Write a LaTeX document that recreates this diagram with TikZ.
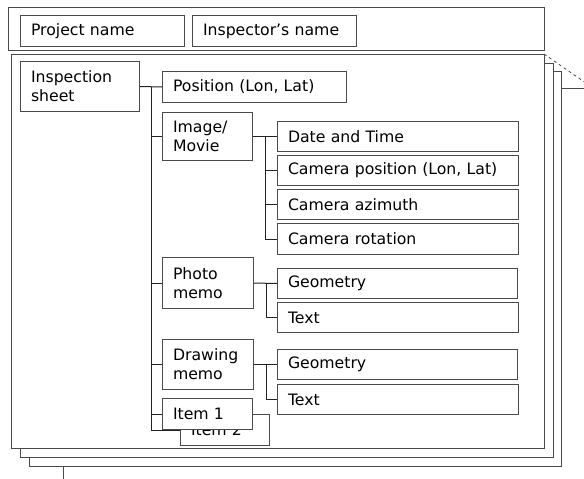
\documentclass[tikz,border=0pt]{standalone}
\usepackage{fontspec}
\setmainfont{DejaVu Sans}
\definecolor{framegray}{HTML}{4A4A4A}
\definecolor{linkgray}{HTML}{222222}
\begin{document}
\begin{tikzpicture}[x=1pt,y=-1pt,line width=1pt]
\tikzset{
  sheet/.style={draw=framegray,fill=white},
  cell/.style={draw=framegray,fill=white,anchor=north west,inner xsep=10.5pt,
    inner ysep=0pt,align=left,text=black,
    font=\fontsize{15.7}{19}\selectfont},
  link/.style={draw=linkgray,line width=1pt},
}
\useasboundingbox (0,0) rectangle (584,479);

% stacked sheets behind the main one
\draw[framegray] (561,88) -- (584,88);
\draw[framegray] (63,466) -- (63,479);
\draw[sheet] (29,71) rectangle (561,466);
\draw[sheet] (20.7,63) rectangle (553,457);
\draw[sheet] (11.7,54) rectangle (544,448);
\draw[framegray,dashed,line width=0.8pt] (544,54) -- (584,81.7);

% header strip
\draw[sheet] (8,7) rectangle (544,50);
\node[cell,text width=143pt,minimum height=31pt] (proj) at (20,15) {Project name};
\node[cell,text width=143pt,minimum height=31pt] (insp) at (192,15) {Inspector’s name};

% inspection sheet tree
\node[cell,text width=98pt,minimum height=50pt] (sheetnode) at (20,61) {Inspection\\sheet};
\node[cell,text width=163pt,minimum height=31pt] (pos) at (162,71) {Position (Lon, Lat)};
\node[cell,text width=69pt,minimum height=48pt] (img) at (162,112) {Image/\\Movie};
\node[cell,text width=220pt,minimum height=30pt] (date) at (277,121) {Date and Time};
\node[cell,text width=220pt,minimum height=30pt] (campos) at (277,155) {Camera position (Lon, Lat)};
\node[cell,text width=220pt,minimum height=30pt] (azim) at (277,189) {Camera azimuth};
\node[cell,text width=220pt,minimum height=31pt] (rot) at (277,223) {Camera rotation};
\node[cell,text width=70pt,minimum height=51pt] (photo) at (162,257) {Photo\\memo};
\node[cell,text width=219pt,minimum height=30pt] (pgeo) at (277,268) {Geometry};
\node[cell,text width=220pt,minimum height=30pt] (ptext) at (277,302) {Text};
\node[cell,text width=70pt,minimum height=50pt] (drawm) at (162,339) {Drawing\\memo};
\node[cell,text width=219pt,minimum height=30pt] (dgeo) at (277,349) {Geometry};
\node[cell,text width=220pt,minimum height=30pt] (dtext) at (277,384) {Text};
\node[cell,text width=68pt,minimum height=31pt] (item2) at (180,414) {Item 2};
\node[cell,text width=69pt,minimum height=31pt] (item1) at (162,398) {Item 1};

% trunk lines
\coordinate (trunk) at (151,0);
\coordinate (imgtrunk) at (265,0);
\coordinate (memotrunk) at (266,0);

\draw[link] (sheetnode.east) -- (pos.west);
\draw[link] (sheetnode.east -| trunk) |- (item2.west);
\draw[link] (trunk |- img.west) -- (img.west);
\draw[link] (trunk |- photo.west) -- (photo.west);
\draw[link] (trunk |- drawm.west) -- (drawm.west);
\draw[link] (trunk |- item1.west) -- (item1.west);

\draw[link] (img.east) -- (date.west);
\draw[link] (img.east -| imgtrunk) |- (rot.west);
\draw[link] (imgtrunk |- campos.west) -- (campos.west);
\draw[link] (imgtrunk |- azim.west) -- (azim.west);

\draw[link] (photo.east) -- (pgeo.west);
\draw[link] (photo.east -| memotrunk) |- (ptext.west);
\draw[link] (drawm.east) -- (dgeo.west);
\draw[link] (drawm.east -| memotrunk) |- (dtext.west);
\end{tikzpicture}
\end{document}
